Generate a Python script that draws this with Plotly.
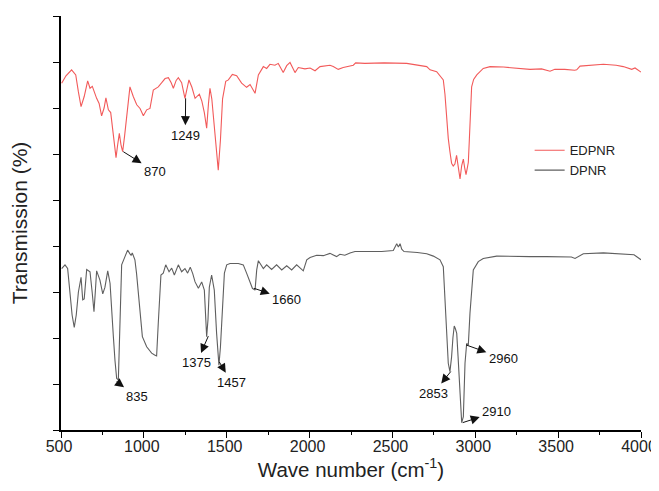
import plotly.graph_objects as go

# ---------------- data ----------------
wn_edpnr = [504, 530, 564, 589, 605, 621, 640, 661, 675, 689, 715, 730, 745, 760, 771, 786, 800, 815,
            832, 842, 852, 862, 872, 884, 896, 916, 936, 957, 977, 997, 1017, 1037, 1057, 1087, 1108,
            1128, 1148, 1165, 1178, 1195, 1208, 1228, 1248, 1260, 1272, 1290, 1309, 1335, 1350, 1365,
            1379, 1390, 1399, 1410, 1425, 1440, 1449, 1462, 1475, 1494, 1510, 1534, 1560, 1590, 1620,
            1641, 1660, 1671, 1691, 1721, 1741, 1761, 1791, 1811, 1841, 1862, 1882, 1912, 1932, 1972,
            2003, 2033, 2063, 2123, 2143, 2173, 2203, 2264, 2278, 2334, 2450, 2586, 2707, 2727, 2767,
            2797, 2807, 2817, 2827, 2837, 2847, 2857, 2867, 2877, 2887, 2898, 2908, 2918, 2928, 2936,
            2944, 2952, 2958, 2964, 2968, 2978, 2990, 3009, 3048, 3089, 3170, 3250, 3330, 3400, 3451,
            3480, 3540, 3600, 3612, 3632, 3700, 3773, 3850, 3893, 3944, 3964, 4000]
t_edpnr = [7.54, 7.70, 7.83, 7.72, 7.35, 7.03, 7.25, 7.59, 7.43, 7.47, 7.21, 7.10, 6.83, 7.00, 7.22, 6.96, 6.90, 6.40,
           5.92, 6.20, 6.45, 6.20, 6.05, 6.40, 6.85, 7.46, 7.25, 7.07, 6.99, 6.83, 6.96, 6.99, 7.39, 7.46, 7.55,
           7.64, 7.66, 7.55, 7.43, 7.60, 7.66, 7.55, 7.21, 7.45, 7.61, 7.45, 7.21, 7.30, 7.15, 6.90,
           6.56, 7.10, 7.43, 7.20, 6.60, 5.90, 5.65, 6.30, 7.20, 7.58, 7.61, 7.73, 7.70, 7.54, 7.45,
           7.51, 7.40, 7.32, 7.72, 7.90, 7.86, 7.95, 7.93, 7.97, 7.77, 7.92, 7.99, 7.77, 7.88, 7.85,
           7.87, 7.81, 7.90, 7.93, 7.90, 7.84, 7.88, 7.93, 7.98, 7.97, 7.98, 7.97, 7.90, 7.83, 7.79,
           7.64, 7.61, 7.30, 6.75, 6.34, 6.05, 5.80, 5.74, 5.78, 5.97, 5.70, 5.46, 5.75, 5.89, 5.70,
           5.55, 5.70, 5.82, 6.30, 6.75, 7.46, 7.62, 7.72, 7.86, 7.90, 7.89, 7.86, 7.84, 7.85, 7.80,
           7.84, 7.84, 7.82, 7.83, 7.91, 7.93, 7.95, 7.93, 7.90, 7.84, 7.87, 7.78]

wn_dpnr = [504, 524, 540, 554, 567, 580, 592, 605, 621, 631, 640, 655, 675, 688, 699, 707, 715, 735, 752,
           765, 782, 796, 806, 816, 826, 836, 846, 856, 866, 886, 902, 916, 923, 930, 946, 956, 966, 978,
           991, 1017, 1047, 1065, 1077, 1087, 1103, 1117, 1132, 1152, 1168, 1184, 1208, 1228, 1248, 1264,
           1280, 1295, 1309, 1329, 1342, 1349, 1365, 1372, 1379, 1387, 1395, 1409, 1425, 1439, 1453, 1462,
           1470, 1486, 1500, 1520, 1570, 1600, 1620, 1641, 1655, 1671, 1681, 1691, 1721, 1741, 1771, 1801,
           1832, 1862, 1892, 1922, 1962, 1983, 2003, 2043, 2083, 2123, 2163, 2183, 2213, 2244, 2274, 2354,
           2435, 2505, 2516, 2526, 2536, 2546, 2556, 2570, 2650, 2707, 2747, 2787, 2807, 2817, 2827, 2837,
           2847, 2857, 2865, 2873, 2880, 2888, 2896, 2904, 2912, 2918, 2928, 2933, 2938, 2948, 2958, 2968,
           2978, 2988, 3018, 3048, 3129, 3230, 3330, 3430, 3531, 3580, 3602, 3652, 3773, 3850, 3934, 3958, 4000]
t_dpnr = [3.51, 3.59, 3.51, 3.04, 2.50, 2.23, 2.50, 3.00, 3.32, 2.83, 2.85, 3.49, 3.44, 3.00, 2.57, 3.00, 3.46, 3.26, 2.96,
          3.10, 3.46, 3.19, 2.70, 2.03, 1.50, 1.12, 1.09, 2.32, 3.59, 3.77, 3.91, 3.83, 3.80, 3.85, 3.70, 3.40, 3.04, 2.50,
          2.03, 1.81, 1.67, 1.63, 1.61, 2.32, 3.37, 3.41, 3.59, 3.44, 3.52, 3.37, 3.59, 3.44, 3.51, 3.41,
          3.54, 3.40, 3.22, 3.08, 3.20, 3.22, 3.04, 2.60, 2.03, 2.40, 3.10, 3.37, 3.04, 2.10, 1.41, 1.80,
          2.32, 3.41, 3.59, 3.62, 3.62, 3.59, 3.41, 3.19, 3.08, 3.04, 3.48, 3.68, 3.51, 3.59, 3.49, 3.59,
          3.48, 3.57, 3.48, 3.59, 3.46, 3.70, 3.75, 3.80, 3.79, 3.84, 3.77, 3.82, 3.80, 3.85, 3.88, 3.88,
          3.88, 3.90, 3.99, 4.05, 3.98, 4.05, 3.93, 3.88, 3.86, 3.83, 3.78, 3.70, 3.55, 2.90, 2.17, 1.45,
          1.27, 1.59, 2.00, 2.26, 2.20, 2.10, 1.60, 1.09, 0.50, 0.16, 0.29, 0.90, 1.45, 1.88, 1.85, 2.54,
          3.10, 3.48, 3.66, 3.73, 3.78, 3.77, 3.77, 3.77, 3.77, 3.76, 3.73, 3.83, 3.85, 3.83, 3.80, 3.81, 3.70]

x_tick_vals = [500, 1000, 1500, 2000, 2500, 3000, 3500, 4000]
x_tick_text = ["500", "1000", "1500", "2000", "2500", "3000", "3500", "4000"]
y_tick_vals = [0, 1, 2, 3, 4, 5, 6, 7, 8, 9]

# peak labels: label, text position (wn, value), point on the curve the arrow starts from (wn, value)
peak_labels = ["870", "1249", "835", "1375", "1457", "1660", "2853", "2960", "2910"]
label_pos = [(1067, 5.62), (1250, 6.41), (957, 0.72), (1319, 1.46), (1530, 1.03),
             (1862, 2.84), (2747, 0.80), (3169, 1.56), (3129, 0.40)]
arrow_tail = [(876, 6.05), (1252, 7.21), (836, 1.05), (1389, 2.04), (1455, 1.48),
              (1665, 3.08), (2852, 1.27), (2944, 1.85), (2924, 0.16)]

FONT = "Liberation Sans, Arial, sans-serif"

fig = go.Figure()
fig.add_trace(go.Scatter(x=wn_edpnr, y=t_edpnr, mode="lines", name="EDPNR",
                         line=dict(color="#f25a5a", width=1.1)))
fig.add_trace(go.Scatter(x=wn_dpnr, y=t_dpnr, mode="lines", name="DPNR",
                         line=dict(color="#5f5f5f", width=1.1)))

annotations = []
for lab, (lx, ly), (px, py) in zip(peak_labels, label_pos, arrow_tail):
    annotations.append(dict(x=px, y=py, xref="x", yref="y", ax=lx, ay=ly, axref="x", ayref="y",
                            text=lab, showarrow=True, arrowside="start",
                            arrowhead=2, startarrowhead=2, arrowsize=1.8, startarrowsize=1.8,
                            arrowwidth=1, arrowcolor="#111111", standoff=0, startstandoff=1,
                            font=dict(family=FONT, size=13, color="#111111")))

# the page body adds an 8px margin on every side, so the figure is sized to fit inside it
fig.update_layout(
    width=651, height=475,
    margin=dict(l=53, r=18, t=8, b=53, autoexpand=False),
    paper_bgcolor="white", plot_bgcolor="white",
    font=dict(family=FONT, color="#222222"),
    showlegend=True,
    legend=dict(x=0.808, y=0.712, xanchor="left", yanchor="top",
                font=dict(family=FONT, size=13, color="#222222"),
                bgcolor="rgba(0,0,0,0)", borderwidth=0, tracegroupgap=0),
    annotations=annotations,
)
fig.update_xaxes(range=[500, 4000], tickvals=x_tick_vals, ticktext=x_tick_text,
                 ticks="outside", ticklen=6, tickwidth=1.2, tickcolor="black",
                 minor=dict(dtick=250, tick0=500, ticks="outside", ticklen=3, tickwidth=1.2, tickcolor="black"),
                 showline=True, linecolor="black", linewidth=1.5, showgrid=False, zeroline=False,
                 automargin=False, ticklabeloverflow="allow", ticklabelstandoff=-5, ticklabelshift=-2,
                 tickfont=dict(family=FONT, size=16, color="#222222"),
                 title=dict(text="Wave number (cm<sup>-1</sup>)", font=dict(family=FONT, size=20.5, color="#222222"),
                            standoff=0))
fig.update_yaxes(range=[0, 9], tickvals=y_tick_vals, showticklabels=False,
                 ticks="outside", ticklen=6, tickwidth=1.2, tickcolor="black",
                 showline=True, linecolor="black", linewidth=1.5, showgrid=False, zeroline=False,
                 automargin=False,
                 title=dict(text="Transmission (%)", font=dict(family=FONT, size=21, color="#222222"),
                            standoff=22))

fig.write_html("out.html")
